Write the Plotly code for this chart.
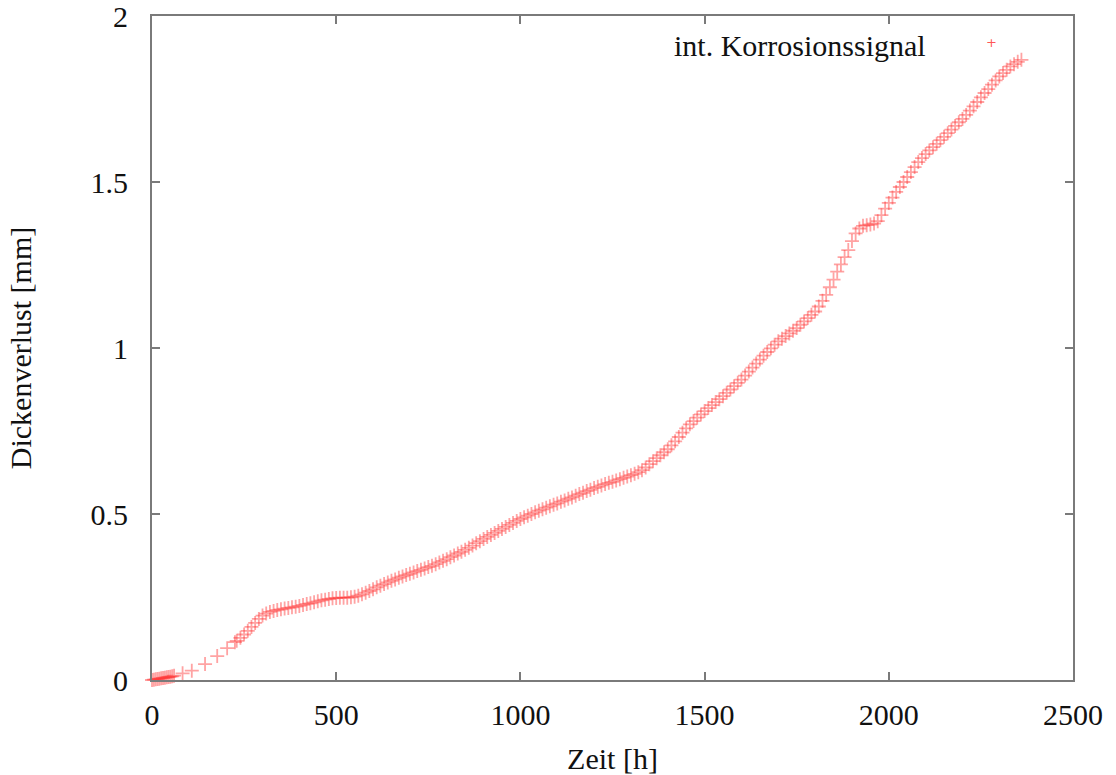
import plotly.graph_objects as go

# Integrated corrosion signal: thickness loss over exposure time
zeit_h = [
    0, 5, 10, 15, 20, 25, 30, 35, 40, 45, 50, 55, 60, 83, 108, 144, 177, 204, 225,
    230, 240, 250, 260, 270, 280, 290, 300,
    310, 320, 330, 340, 350, 360, 370, 380, 390, 400,
    410, 420, 430, 440, 450, 460, 470, 480, 490, 500,
    510, 520, 530, 540, 550, 560, 570, 580, 590, 600,
    610, 620, 630, 640, 650, 660, 670, 680, 690, 700,
    710, 720, 730, 740, 750, 760, 770, 780, 790, 800,
    810, 820, 830, 840, 850, 860, 870, 880, 890, 900,
    910, 920, 930, 940, 950, 960, 970, 980, 990, 1000,
    1010, 1020, 1030, 1040, 1050, 1060, 1070, 1080, 1090, 1100,
    1110, 1120, 1130, 1140, 1150, 1160, 1170, 1180, 1190, 1200,
    1210, 1220, 1230, 1240, 1250, 1260, 1270, 1280, 1290, 1300,
    1310, 1320, 1330, 1340, 1350, 1360, 1370, 1380, 1390, 1400,
    1410, 1420, 1430, 1440, 1450, 1460, 1470, 1480, 1490, 1500,
    1510, 1520, 1530, 1540, 1550, 1560, 1570, 1580, 1590, 1600,
    1610, 1620, 1630, 1640, 1650, 1660, 1670, 1680, 1690, 1700,
    1710, 1720, 1730, 1740, 1750, 1760, 1770, 1780, 1790, 1800,
    1810, 1820, 1830, 1840, 1850, 1860, 1870, 1880, 1890, 1900,
    1910, 1920, 1930, 1940, 1950, 1960, 1970, 1980, 1990, 2000,
    2010, 2020, 2030, 2040, 2050, 2060, 2070, 2080, 2090, 2100,
    2110, 2120, 2130, 2140, 2150, 2160, 2170, 2180, 2190, 2200,
    2210, 2220, 2230, 2240, 2250, 2260, 2270, 2280, 2290, 2300,
    2310, 2320, 2330, 2340, 2350, 2360,
]

dickenverlust_mm = [
    0.000, 0.001, 0.002, 0.003, 0.004, 0.005, 0.006, 0.007, 0.008, 0.009, 0.010, 0.011, 0.013,
    0.020, 0.028, 0.048, 0.072, 0.096, 0.114,
    0.118, 0.127, 0.137, 0.148, 0.160, 0.172, 0.184, 0.194,
    0.200, 0.205, 0.208, 0.211, 0.213, 0.215, 0.217, 0.219, 0.221, 0.223,
    0.226, 0.229, 0.231, 0.234, 0.237, 0.240, 0.242, 0.244, 0.246, 0.247,
    0.248, 0.248, 0.248, 0.249, 0.251, 0.254, 0.258, 0.263, 0.268, 0.273,
    0.279, 0.284, 0.289, 0.294, 0.299, 0.303, 0.308, 0.312, 0.316, 0.320,
    0.324, 0.328, 0.332, 0.336, 0.340, 0.344, 0.349, 0.354, 0.359, 0.364,
    0.370, 0.375, 0.381, 0.386, 0.392, 0.398, 0.405, 0.412, 0.418, 0.425,
    0.431, 0.437, 0.443, 0.449, 0.455, 0.461, 0.467, 0.473, 0.479, 0.485,
    0.490, 0.495, 0.500, 0.505, 0.510, 0.514, 0.519, 0.523, 0.528, 0.532,
    0.537, 0.541, 0.546, 0.550, 0.555, 0.560, 0.564, 0.569, 0.573, 0.578,
    0.582, 0.586, 0.590, 0.594, 0.597, 0.601, 0.605, 0.609, 0.613, 0.617,
    0.621, 0.626, 0.632, 0.640, 0.650, 0.659, 0.668, 0.677, 0.686, 0.695,
    0.707, 0.719, 0.732, 0.745, 0.758, 0.770, 0.780, 0.790, 0.800, 0.810,
    0.819, 0.828, 0.837, 0.846, 0.855, 0.865, 0.875, 0.885, 0.895, 0.905,
    0.917, 0.929, 0.941, 0.953, 0.965, 0.977, 0.988, 0.999, 1.010, 1.020,
    1.028, 1.036, 1.044, 1.052, 1.060, 1.070, 1.080, 1.090, 1.100, 1.110,
    1.125, 1.142, 1.160, 1.183, 1.206, 1.230, 1.252, 1.274, 1.295, 1.322,
    1.345, 1.360, 1.368, 1.370, 1.372, 1.375, 1.382, 1.400, 1.420, 1.437,
    1.453, 1.470, 1.485, 1.500, 1.515, 1.530, 1.545, 1.560, 1.572, 1.584,
    1.595, 1.605, 1.615, 1.626, 1.636, 1.647, 1.658, 1.669, 1.680, 1.690,
    1.702, 1.715, 1.728, 1.741, 1.755, 1.768, 1.780, 1.793, 1.806, 1.818,
    1.828, 1.838, 1.848, 1.855, 1.862, 1.868,
]

x_ticks = [0, 500, 1000, 1500, 2000, 2500]
y_ticks = [0, 0.5, 1, 1.5, 2]
y_tick_text = ["0", "0.5", "1", "1.5", "2"]

SERIF = "Liberation Serif, Times New Roman, serif"
AXIS_GREY = "#7a7a7a"
RED = "rgba(255,50,50,0.45)"
FS = 30

fig = go.Figure()
fig.add_trace(go.Scatter(
    x=zeit_h,
    y=dickenverlust_mm,
    mode="markers",
    name="int. Korrosionssignal",
    marker=dict(symbol="cross-thin-open", size=10, color=RED,
                line=dict(color=RED, width=1.8)),
    showlegend=False,
    cliponaxis=False,
))

# gnuplot-style key: label first, then the symbol
fig.add_annotation(xref="paper", yref="paper", x=0.843, y=0.955,
                   text="int. Korrosionssignal", showarrow=False,
                   xanchor="right", yanchor="middle",
                   font=dict(family=SERIF, size=FS, color="#111"))
fig.add_annotation(xref="paper", yref="paper", x=0.912, y=0.96,
                   text="+", showarrow=False, xanchor="center", yanchor="middle",
                   font=dict(family="DejaVu Sans", size=13, color="rgba(255,40,40,0.8)"))

axis_common = dict(
    showline=True, linecolor=AXIS_GREY, linewidth=2, mirror="allticks",
    ticks="inside", ticklen=8, tickwidth=1.5, tickcolor=AXIS_GREY,
    showgrid=False, zeroline=False, automargin=False,
    ticklabeloverflow="allow",
    tickfont=dict(family=SERIF, size=FS, color="#111"),
    title_font=dict(family=SERIF, size=FS, color="#111"),
)

fig.update_xaxes(range=[0, 2500], tickvals=x_ticks, ticklabelstandoff=7,
                 title_text="Zeit [h]", title_standoff=18, **axis_common)
fig.update_yaxes(range=[0, 2], tickvals=y_ticks, ticktext=y_tick_text,
                 ticklabelstandoff=16,
                 title_text="Dickenverlust [mm]", title_standoff=50, **axis_common)

fig.update_layout(
    width=1116, height=775,
    margin=dict(l=152, r=43, t=16, b=95),
    paper_bgcolor="white", plot_bgcolor="white",
)

fig.write_html("out.html")
